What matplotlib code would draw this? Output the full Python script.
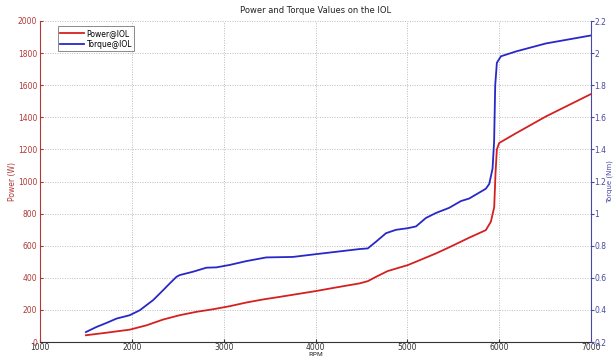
import matplotlib
matplotlib.use("Agg")
import matplotlib.pyplot as plt

rpm_power = [1500, 1725, 1978, 2160, 2341, 2522, 2703, 2884, 3065, 3247, 3428, 3609,
             4000, 4225, 4478, 4569, 4659, 4786, 5004, 5094, 5312, 5456, 5674, 5855,
             5910, 5946, 5960, 5975, 6000, 6181, 6508, 7000]
power = [42, 58, 77, 104, 140, 167, 188, 204, 223, 246, 265, 281,
         317, 340, 365, 379, 406, 442, 479, 500, 552, 590, 650, 697,
         750, 840, 1050, 1200, 1240, 1300, 1405, 1545]

rpm_torque = [1500, 1616, 1725, 1834, 1978, 2087, 2232, 2341, 2413, 2486, 2522, 2667,
              2812, 2920, 3065, 3247, 3464, 3754, 4000, 4225, 4478, 4569, 4659, 4768,
              4877, 5004, 5094, 5203, 5312, 5456, 5583, 5674, 5855, 5892, 5928, 5945,
              5957, 5975, 6019, 6181, 6508, 7000]
torque = [0.262, 0.294, 0.319, 0.346, 0.367, 0.398, 0.461, 0.523, 0.565, 0.606, 0.617, 0.638,
          0.663, 0.665, 0.680, 0.704, 0.727, 0.730, 0.747, 0.762, 0.779, 0.783, 0.825, 0.878,
          0.899, 0.909, 0.920, 0.973, 1.004, 1.036, 1.078, 1.094, 1.155, 1.185, 1.280, 1.450,
          1.800, 1.940, 1.980, 2.010, 2.060, 2.110]

title = "Power and Torque Values on the IOL"
xlabel = "RPM"
ylabel_left = "Power (W)"
ylabel_right = "Torque (Nm)"
legend_labels = ["Power@IOL", "Torque@IOL"]

red = "#d42020"
blue = "#2828c8"
red_txt = "#b03838"
blue_txt = "#4848a8"

fig = plt.figure(figsize=(6.14, 3.56), dpi=100)
ax = fig.add_axes([40/614, 1-342/356, 551/614, 321/356])
ax2 = ax.twinx()

l1, = ax.plot(rpm_power, power, color=red, lw=1.3)
l2, = ax2.plot(rpm_torque, torque, color=blue, lw=1.3)

ax.set_xlim(1000, 7000)
ax.set_ylim(0, 2000)
ax2.set_ylim(0.2, 2.2)
ax.set_xticks(range(1000, 7001, 1000))
ax.set_yticks(range(0, 2001, 200))
ax2.set_yticks([0.2, 0.4, 0.6, 0.8, 1.0, 1.2, 1.4, 1.6, 1.8, 2.0, 2.2])
ax2.set_yticklabels(["0.2", "0.4", "0.6", "0.8", "1", "1.2", "1.4", "1.6", "1.8", "2", "2.2"])

ax.grid(True, color="#bcbcbc", linestyle=(0, (1, 1.5)), linewidth=0.7)
ax.set_axisbelow(True)

for a in (ax, ax2):
    a.spines["top"].set_visible(False)
ax.spines["left"].set_color(red_txt)
ax.spines["right"].set_visible(False)
ax2.spines["left"].set_visible(False)
ax2.spines["right"].set_color(blue_txt)
ax2.spines["bottom"].set_visible(False)
ax.spines["bottom"].set_color("#333333")

ax.tick_params(axis="x", labelsize=5.5, colors="#333333", length=2, pad=0.5, direction="in")
ax.tick_params(axis="y", labelsize=5.5, colors=red_txt, length=2, pad=2, direction="in")
ax2.tick_params(axis="y", labelsize=5.5, colors=blue_txt, length=2, pad=0.5, direction="out")

ax.set_title(title, fontsize=6, color="#222222", pad=6)
ax.set_xlabel(xlabel, fontsize=5, color="#333333", labelpad=0)
ax.set_ylabel(ylabel_left, fontsize=5.5, color=red_txt)
ax2.set_ylabel(ylabel_right, fontsize=5, color=blue_txt)
ax.yaxis.set_label_coords(-0.042, 0.5)
ax2.yaxis.set_label_coords(1.0275, 0.5)

leg = ax.legend([l1, l2], legend_labels, loc="upper left", bbox_to_anchor=(0.025, 0.995),
                fontsize=5.5, frameon=True, fancybox=False, edgecolor="#555555",
                handlelength=3.2, handletextpad=0.3, borderpad=0.3, labelspacing=0.3)
leg.get_frame().set_linewidth(0.6)

fig.savefig("out.png", dpi=100)
